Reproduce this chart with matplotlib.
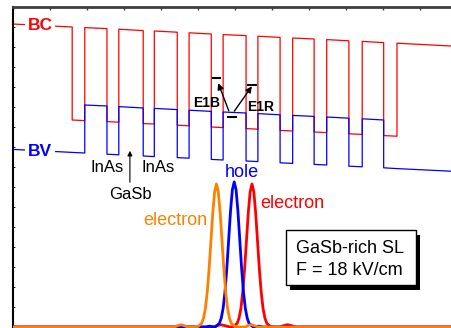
import matplotlib
matplotlib.use("Agg")
import matplotlib.pyplot as plt
from matplotlib.patches import Rectangle

FONT = ["Liberation Sans", "DejaVu Sans"]

# layer edges along the growth direction (nm) and material of each layer between them
EDGES = [0.0, 8.0, 9.7, 12.7, 14.3, 17.6, 19.1, 22.2, 23.8, 26.8, 28.4,
         31.5, 33.1, 36.1, 37.8, 40.7, 42.4, 45.4, 47.2, 50.1, 51.9, 59.2]
LAYERS = ["cap"] + ["InAs", "GaSb"] * 9 + ["InAs", "cap"]

# band edges (meV) at each layer edge, tilted by the field
BC_HIGH = [1515, 1500, 1497, 1492, 1489, 1482, 1480, 1474, 1471, 1465, 1462,
           1457, 1454, 1448, 1445, 1440, 1437, 1431, 1428, 1422, 1419, 1405]
BC_LOW = [1050, 1035, 1032, 1027, 1024, 1017, 1015, 1009, 1006, 1000, 997,
          992, 989, 983, 980, 975, 972, 966, 963, 957, 954, 940]
BV_HIGH = [1128, 1113, 1110, 1105, 1102, 1095, 1093, 1087, 1084, 1078, 1075,
           1070, 1067, 1061, 1058, 1053, 1050, 1044, 1041, 1035, 1032, 1018]
BV_LOW = [888, 873, 870, 864, 861, 855, 852, 847, 844, 838, 835,
          830, 827, 821, 818, 813, 810, 804, 801, 796, 792, 779]

# |psi|^2 (normalised) of the three states
E1B_X = [0.0, 21.8, 22.3, 22.7, 23.1, 23.6, 24.6, 25.0, 25.5, 25.75, 26.0, 26.25,
         26.5, 26.75, 27.0, 27.25, 27.5, 27.75, 28.0, 28.25, 28.5, 28.75, 29.0,
         29.25, 29.5, 30.0, 30.6, 31.4, 31.8, 32.2, 32.6, 33.1, 59.2]
E1B_Y = [0, 0, 0.010, 0.016, 0.010, 0, 0, 0.003, 0.026, 0.062, 0.129, 0.242,
         0.403, 0.600, 0.797, 0.945, 1.0, 0.945, 0.797, 0.600, 0.403, 0.242, 0.129,
         0.062, 0.026, 0.003, 0, 0, 0.012, 0.016, 0.010, 0, 0]
HH_X = [0.0, 26.0, 26.6, 27.1, 27.4, 27.9, 28.15, 28.4, 28.65, 28.9, 29.15, 29.4,
        29.65, 29.9, 30.15, 30.4, 30.65, 30.9, 31.15, 31.4, 31.65, 31.9, 32.4,
        32.7, 33.2, 33.8, 59.2]
HH_Y = [0, 0, 0.006, 0, 0.003, 0.026, 0.063, 0.131, 0.245, 0.41, 0.61, 0.81,
        0.96, 1.015, 0.96, 0.81, 0.61, 0.41, 0.245, 0.131, 0.063, 0.026, 0.003,
        0, 0.006, 0, 0]
E1R_X = [0.0, 27.1, 27.6, 28.1, 28.6, 29.3, 29.8, 30.3, 30.55, 30.8, 31.05, 31.3,
         31.55, 31.8, 32.05, 32.3, 32.55, 32.8, 33.05, 33.3, 33.55, 33.8, 34.05,
         34.3, 34.8, 35.4, 36.1, 36.6, 37.1, 37.6, 38.2, 59.2]
E1R_Y = [0, 0, 0.010, 0.016, 0.010, 0, 0.003, 0.026, 0.062, 0.129, 0.242, 0.403,
         0.600, 0.797, 0.945, 1.0, 0.945, 0.797, 0.600, 0.403, 0.242, 0.129, 0.062,
         0.026, 0.003, 0, 0, 0.010, 0.016, 0.010, 0, 0]
WF_SCALE = 715

# transition levels: (x0, x1, E)
LEVELS = [(27.0, 28.0, 1246), (29.0, 30.1, 1048), (31.8, 32.8, 1210)]

RED, BLUE, ORANGE = "#ff0000", "#0000ff", "#ff8000"


def profile(high, low, band):
    xs, ys = [], []
    for i, mat in enumerate(LAYERS):
        if band == "c":
            lv = low if mat == "InAs" else high
        else:
            lv = high if mat == "GaSb" else low
        xs += [EDGES[i], EDGES[i + 1]]
        ys += [lv[i], lv[i + 1]]
    return xs, ys


fig = plt.figure(figsize=(4.51, 3.28), dpi=100)
ax = fig.add_axes([13 / 451, 0, 1 - 13 / 451, 321 / 328])
ax.set_xlim(0, 59.2)
ax.set_ylim(-5, 1600)

x, y = profile(BC_HIGH, BC_LOW, "c")
ax.plot(x, y, color=RED, lw=0.9, zorder=2)
x, y = profile(BV_HIGH, BV_LOW, "v")
ax.plot(x, y, color=BLUE, lw=0.9, zorder=2)

for xs, ys, c in ((E1R_X, E1R_Y, RED), (HH_X, HH_Y, BLUE), (E1B_X, E1B_Y, ORANGE)):
    ax.plot(xs, [v * WF_SCALE for v in ys], color=c, lw=2.0, zorder=3,
            solid_joinstyle="round")

for x0, x1, e in LEVELS:
    ax.plot([x0, x1], [e, e], color="black", lw=1.5, zorder=4)
ax.annotate("", xy=(27.6, 1232), xytext=(29.3, 1068),
            arrowprops=dict(arrowstyle="-|>", color="black", lw=1.0, mutation_scale=9))
ax.annotate("", xy=(32.5, 1215), xytext=(29.7, 1068),
            arrowprops=dict(arrowstyle="-|>", color="black", lw=1.0, mutation_scale=9))
ax.text(24.3, 1101, "E1B", fontsize=10, fontweight="bold", family=FONT, zorder=5)
ax.text(31.6, 1080, "E1R", fontsize=10, fontweight="bold", family=FONT, zorder=5)

wbox = dict(boxstyle="square,pad=0.15", facecolor="white", edgecolor="none")
ax.text(2.0, 1485, "BC", color=RED, fontsize=12.5, fontweight="bold", family=FONT,
        bbox=wbox, zorder=5)
ax.text(2.0, 855, "BV", color=BLUE, fontsize=12.5, fontweight="bold", family=FONT,
        bbox=wbox, zorder=5)

ax.text(12.7, 775, "InAs", fontsize=12, ha="center", family=FONT, zorder=5)
ax.text(19.6, 775, "InAs", fontsize=12, ha="center", family=FONT, zorder=5)
ax.text(15.9, 638, "GaSb", fontsize=12, ha="center", family=FONT, zorder=5)
ax.annotate("", xy=(15.8, 895), xytext=(15.8, 710),
            arrowprops=dict(arrowstyle="-|>", color="black", lw=0.8, mutation_scale=7))

ax.text(21.9, 510, "electron", color=ORANGE, fontsize=13, ha="center", family=FONT, zorder=5)
ax.text(30.9, 751, "hole", color=BLUE, fontsize=13, ha="center", family=FONT, zorder=5)
ax.text(37.7, 597, "electron", color=RED, fontsize=13, ha="center", family=FONT, zorder=5)

# label box with drop shadow
ax.add_patch(Rectangle((37.45, 185), 17.6, 275, facecolor="black", edgecolor="none", zorder=5))
ax.add_patch(Rectangle((36.9, 210), 17.6, 275, facecolor="white", edgecolor="black",
                       lw=1.0, zorder=6))
ax.text(38.2, 368, "GaSb-rich SL", fontsize=13, family=FONT, zorder=7)
ax.text(38.2, 260, "F = 18 kV/cm", fontsize=13, family=FONT, zorder=7)

ax.spines["right"].set_visible(False)
ax.spines["bottom"].set_visible(False)
ax.spines["left"].set_linewidth(1.5)
ax.spines["top"].set_linewidth(2.0)
ax.spines["top"].set_color("#404040")
ax.set_xticks(range(0, 60, 5))
ax.set_yticks(range(0, 1600, 100))
ax.tick_params(axis="x", top=True, bottom=False, direction="in", length=2.5,
               width=1, colors="#404040", labeltop=False, labelbottom=False)
ax.tick_params(axis="y", left=True, direction="in", length=1.5, width=0.6,
               labelleft=False)

fig.savefig("out.png", dpi=100)
